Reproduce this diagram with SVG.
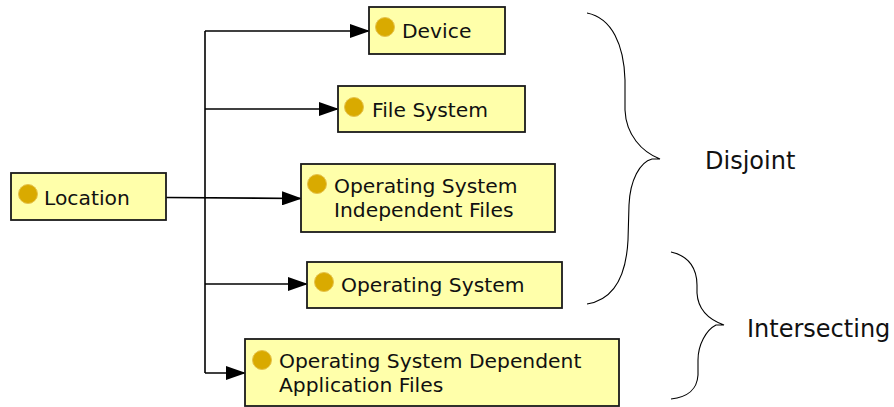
<svg xmlns="http://www.w3.org/2000/svg" width="894" height="407" viewBox="0 0 894 407">
<defs>
<style>
.box{fill:#ffffaa;stroke:#1a1a1a;stroke-width:1.8}
.dot{fill:#d9aa00;stroke:#e6c24a;stroke-width:1}
.t{font-family:"DejaVu Sans",Verdana,sans-serif;font-size:20.3px;fill:#111}
.lb{font-family:"DejaVu Sans",Verdana,sans-serif;font-size:24px;fill:#111}
.c{fill:none;stroke:#000;stroke-width:1.6}
.b{fill:none;stroke:#000;stroke-width:1.1}
</style>
<marker id="ah" markerUnits="userSpaceOnUse" markerWidth="20" markerHeight="14" refX="19" refY="7" orient="auto">
<path d="M0,0 L20,7 L0,14 z" fill="#000"/>
</marker>
</defs>
<rect width="894" height="407" fill="#fff"/>
<g id="connectors">
<path class="c" d="M205,31 L205,373"/>
<path class="c" d="M205,31 L369,31" marker-end="url(#ah)"/>
<path class="c" d="M205,109 L338,109" marker-end="url(#ah)"/>
<path class="c" d="M166,197.5 L301,198.5" marker-end="url(#ah)"/>
<path class="c" d="M205,284 L307,284" marker-end="url(#ah)"/>
<path class="c" d="M205,373 L245,373" marker-end="url(#ah)"/>
</g>
<g id="location">
<rect class="box" x="11" y="173" width="155" height="47"/>
<circle class="dot" cx="28" cy="194" r="9.5"/>
<text class="t" x="44" y="205">Location</text>
</g>
<g id="device">
<rect class="box" x="369" y="7" width="136" height="47"/>
<circle class="dot" cx="385" cy="27" r="9.5"/>
<text class="t" x="402" y="38">Device</text>
</g>
<g id="filesystem">
<rect class="box" x="338" y="86" width="187" height="46"/>
<circle class="dot" cx="354" cy="107" r="9.5"/>
<text class="t" x="372" y="117">File System</text>
</g>
<g id="osif">
<rect class="box" x="301" y="164" width="254" height="68"/>
<circle class="dot" cx="317" cy="184" r="9.5"/>
<text class="t" x="334" y="193">Operating System</text>
<text class="t" x="334" y="217">Independent Files</text>
</g>
<g id="os">
<rect class="box" x="307" y="262" width="255" height="46"/>
<circle class="dot" cx="324" cy="282" r="9.5"/>
<text class="t" x="341" y="292">Operating System</text>
</g>
<g id="osdaf">
<rect class="box" x="245" y="339" width="374" height="67"/>
<circle class="dot" cx="262" cy="360" r="9.5"/>
<text class="t" x="279" y="368">Operating System Dependent</text>
<text class="t" x="279" y="392">Application Files</text>
</g>
<g id="disjoint">
<path class="b" d="M587,13 C612,18 624,45 625,80 L625,110 C626,135 642,152 660,159 L652,159 C640,162 630,180 629,205 L628,240 C626,280 612,300 587,304"/>
<text class="lb" x="705" y="169">Disjoint</text>
</g>
<g id="intersecting">
<path class="b" d="M671,252 C690,256 697,270 697,285 L697,293 C698,310 710,320 724,325 L716,325 C706,330 698,345 698,360 L698,375 C697,390 688,397 671,399"/>
<text class="lb" x="747" y="337">Intersecting</text>
</g>
</svg>
